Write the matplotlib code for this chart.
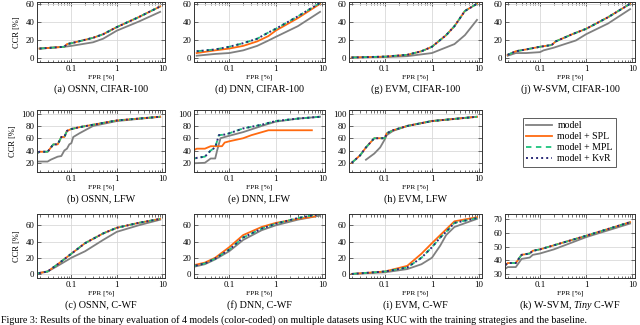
import matplotlib
matplotlib.use("Agg")
import matplotlib.pyplot as plt
from matplotlib.ticker import LogLocator, NullFormatter, FixedLocator, FixedFormatter

plt.rcParams["font.family"] = ["Liberation Serif", "DejaVu Serif"]
plt.rcParams["mathtext.fontset"] = "custom"
plt.rcParams["mathtext.rm"] = "Liberation Serif"
plt.rcParams["mathtext.it"] = "Liberation Serif:italic"

# series names
series = ["model", "model + SPL", "model + MPL", "model + KvR"]

# (a) OSNN, CIFAR-100
a_x_model = [0.02, 0.07, 0.1, 0.3, 0.5, 1, 3, 9]
a_model = [10, 12, 13, 17, 21, 30, 40, 51]
a_x_ext = [0.02, 0.07, 0.08, 0.1, 0.3, 0.5, 1, 3, 9]
a_ext = [10, 12, 15, 16, 22, 26, 34, 45, 57]

# (d) DNN, CIFAR-100
d_x = [0.02, 0.05, 0.1, 0.2, 0.4, 0.7, 1, 3, 9]
d_model = [2, 4, 5, 8, 13, 19, 23, 35, 51]
d_spl = [5, 8, 10, 13, 18, 24, 30, 44, 60]
d_kvr = [7, 9, 12, 16, 21, 28, 32, 46, 61]

# (g) EVM, CIFAR-100
g_x_model = [0.02, 0.1, 0.3, 1, 3, 5, 9]
g_model = [0, 0.5, 1.5, 5, 15, 25, 42]
g_x_ext = [0.02, 0.1, 0.3, 0.6, 1, 2, 3, 5, 9]
g_ext = [0, 1, 3, 7, 12, 25, 35, 52, 60]

# (j) W-SVM, CIFAR-100
j_x_model = [0.02, 0.03, 0.05, 0.1, 0.12, 0.2, 0.3, 0.6, 1, 3, 9]
j_model = [2, 5, 5, 6, 8, 11, 14, 19, 26, 38, 54]
j_x_ext = [0.02, 0.03, 0.05, 0.1, 0.18, 0.22, 0.5, 1, 3, 9]
j_ext = [3, 7, 9, 12, 14, 18, 26, 32, 45, 60]

# (b) OSNN, LFW
b_x_model = [0.015, 0.03, 0.035, 0.05, 0.06, 0.07, 0.08, 0.09, 0.1, 0.11, 0.15, 0.2, 0.3, 1, 9]
b_model = [22, 22, 25, 30, 31, 40, 43, 50, 52, 62, 68, 73, 80, 88, 95]
b_x_ext = [0.015, 0.02, 0.03, 0.04, 0.05, 0.06, 0.07, 0.08, 0.1, 0.15, 0.3, 1, 9]
b_ext = [33, 38, 38, 50, 50, 62, 62, 72, 75, 78, 82, 89, 95]

# (e) DNN, LFW
e_x_model = [0.015, 0.03, 0.04, 0.05, 0.055, 0.065, 0.08, 0.1, 0.2, 0.5, 1, 3, 9]
e_model = [19, 20, 27, 27, 40, 60, 62, 64, 70, 80, 87, 92, 95]
e_x_spl = [0.015, 0.02, 0.03, 0.04, 0.07, 0.08, 0.1, 0.2, 0.3, 0.7, 1, 6]
e_spl = [38, 43, 43, 47, 47, 53, 55, 60, 65, 73, 73, 73]
e_x_kvr = [0.015, 0.02, 0.03, 0.04, 0.05, 0.06, 0.08, 0.1, 0.2, 0.5, 1, 3, 9]
e_kvr = [25, 28, 30, 40, 45, 65, 66, 68, 76, 82, 88, 92, 95]

# (h) EVM, LFW
h_x_model = [0.04, 0.06, 0.08, 0.1, 0.11, 0.15, 0.3, 1, 9]
h_model = [25, 35, 45, 58, 65, 72, 80, 88, 95]
h_x_ext = [0.02, 0.03, 0.04, 0.06, 0.1, 0.11, 0.15, 0.3, 1, 9]
h_ext = [20, 32, 45, 60, 60, 68, 73, 80, 88, 95]

# (c) OSNN, C-WF
c_x = [0.015, 0.03, 0.05, 0.1, 0.2, 0.5, 1, 3, 9]
c_model = [0, 3, 10, 20, 28, 42, 52, 60, 67]
c_ext = [0, 3, 12, 25, 38, 50, 57, 63, 68]

# (f) DNN, C-WF
f_x = [0.015, 0.03, 0.05, 0.1, 0.2, 0.5, 1, 3, 9]
f_model = [8, 12, 18, 28, 42, 54, 60, 67, 72]
f_x_spl = [0.015, 0.03, 0.05, 0.1, 0.2, 0.5, 1, 3, 7]
f_spl = [10, 14, 20, 33, 48, 58, 63, 68, 71]
f_kvr = [9, 13, 19, 30, 45, 56, 62, 69, 74]

# (i) EVM, C-WF
i_x = [0.02, 0.1, 0.3, 0.6, 1, 1.5, 2, 3, 9]
i_model = [0, 2, 6, 12, 20, 35, 48, 58, 68]
i_spl = [0, 3, 10, 25, 38, 48, 55, 65, 70]
i_kvr = [0, 3, 8, 20, 33, 45, 52, 63, 69]

# (k) W-SVM, Tiny C-WF
k_x = [0.015, 0.02, 0.03, 0.04, 0.06, 0.07, 0.1, 0.2, 1, 3, 9]
k_model = [32, 35, 35, 41, 42, 44, 45, 48, 57, 62, 67]
k_ext = [34, 38, 38, 44, 45, 47, 48, 51, 58, 63, 68]

titles = [
    "(a) OSNN, CIFAR-100", "(d) DNN, CIFAR-100", "(g) EVM, CIFAR-100", "(j) W-SVM, CIFAR-100",
    "(b) OSNN, LFW", "(e) DNN, LFW", "(h) EVM, LFW", None,
    "(c) OSNN, C-WF", "(f) DNN, C-WF", "(i) EVM, C-WF", r"(k) W-SVM, $\mathit{Tiny}$ C-WF",
]

# per panel: list of (x, y) for model, SPL, MPL, KvR
panels = [
    [(a_x_model, a_model), (a_x_ext, a_ext), (a_x_ext, a_ext), (a_x_ext, a_ext)],
    [(d_x, d_model), (d_x, d_spl), (d_x, d_kvr), (d_x, d_kvr)],
    [(g_x_model, g_model), (g_x_ext, g_ext), (g_x_ext, g_ext), (g_x_ext, g_ext)],
    [(j_x_model, j_model), (j_x_ext, j_ext), (j_x_ext, j_ext), (j_x_ext, j_ext)],
    [(b_x_model, b_model), (b_x_ext, b_ext), (b_x_ext, b_ext), (b_x_ext, b_ext)],
    [(e_x_model, e_model), (e_x_spl, e_spl), (e_x_kvr, e_kvr), (e_x_kvr, e_kvr)],
    [(h_x_model, h_model), (h_x_ext, h_ext), (h_x_ext, h_ext), (h_x_ext, h_ext)],
    None,
    [(c_x, c_model), (c_x, c_ext), (c_x, c_ext), (c_x, c_ext)],
    [(f_x, f_model), (f_x_spl, f_spl), (f_x, f_kvr), (f_x, f_kvr)],
    [(i_x, i_model), (i_x, i_spl), (i_x, i_kvr), (i_x, i_kvr)],
    [(k_x, k_model), (k_x, k_ext), (k_x, k_ext), (k_x, k_ext)],
]

row_yticks = [[0, 20, 40, 60], [20, 40, 60, 80, 100], [0, 20, 40, 60]]
row_ylim = [(-5, 62), (5, 106), (-5, 74)]
k_yticks = [30, 40, 50, 60, 70]
k_ylim = (27, 74)

colors = ["#808080", "#ff6a10", "#1ec47e", "#2b2b78"]
styles = [dict(ls="-", lw=1.3), dict(ls="-", lw=1.3),
          dict(ls=(0, (3, 2.5)), lw=1.3), dict(ls=(0, (1, 1.6)), lw=1.4)]

W, H = 640, 325
col_px = [(37, 165), (194, 325), (349, 482), (505, 635)]
row_px = [(2, 62), (110, 172), (214, 278)]

fig = plt.figure(figsize=(6.4, 3.25), dpi=100)

for idx in range(12):
    r, c = divmod(idx, 4)
    x0, x1 = col_px[c]
    y0, y1 = row_px[r]
    if panels[idx] is None:
        continue
    ax = fig.add_axes([x0 / W, 1 - y1 / H, (x1 - x0) / W, (y1 - y0) / H])
    for (xs, ys), col, st, name in zip(panels[idx], colors, styles, series):
        ax.plot(xs, ys, color=col, label=name, **st)
    ax.set_xscale("log")
    ax.set_xlim(0.0175, 11.5)
    if idx == 11:
        ax.set_ylim(*k_ylim)
        ax.set_yticks(k_yticks)
    else:
        ax.set_ylim(*row_ylim[r])
        ax.set_yticks(row_yticks[r])
    ax.xaxis.set_major_locator(FixedLocator([0.1, 1, 10]))
    ax.xaxis.set_major_formatter(FixedFormatter(["0.1", "1", "10"]))
    ax.xaxis.set_minor_locator(LogLocator(base=10, subs=range(2, 10)))
    ax.xaxis.set_minor_formatter(NullFormatter())
    ax.grid(True, which="major", color="#d9d9d9", lw=0.6)
    ax.set_axisbelow(True)
    ax.tick_params(which="both", direction="in", top=True, right=True,
                   labelsize=6.3, pad=2, width=0.5, color="#333333")
    ax.tick_params(which="major", length=3)
    ax.tick_params(which="minor", length=1.8)
    for sp in ax.spines.values():
        sp.set_linewidth(0.7)
        sp.set_color("#333333")
    ax.set_xlabel("FPR [%]", fontsize=5.4, labelpad=1.5)
    if c == 0:
        ax.set_ylabel("CCR [%]", fontsize=6, labelpad=3)
    fig.text((x0 + x1) / 2 / W, 1 - (y1 + 27) / H, titles[idx],
             ha="center", va="center", fontsize=7.3)
    if idx == 0:
        handles, labels = ax.get_legend_handles_labels()

fig.legend(handles, labels, loc="upper left",
           bbox_to_anchor=(518 / W, 1 - 113 / H), fontsize=7,
           frameon=True, fancybox=False, edgecolor="#333333",
           handlelength=2.6, borderpad=0.35, labelspacing=0.2,
           handletextpad=0.6).get_frame().set_linewidth(0.7)

fig.text(0.002, 1 - 315 / H,
         "Figure 3: Results of the binary evaluation of 4 models (color-coded) on multiple datasets using KUC with the training strategies and the baseline.",
         ha="left", va="top", fontsize=7.2)

fig.savefig("out.png", dpi=100)
